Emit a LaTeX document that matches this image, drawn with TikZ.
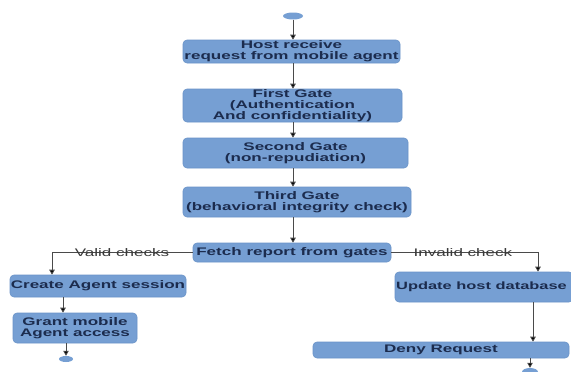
\documentclass[tikz,border=0pt]{standalone}
\usepackage{fontspec}
\newfontfamily\boxfont[FakeStretch=1.55]{Liberation Sans}
\usetikzlibrary{arrows.meta,shapes.geometric}
\definecolor{boxfill}{HTML}{769FD3}
\definecolor{boxline}{HTML}{6A93C8}
\definecolor{boxtext}{HTML}{1C2C4E}
\definecolor{linegray}{HTML}{4A4A4A}
\definecolor{labgray}{HTML}{3A3A3A}
\tikzset{
  stepbox/.style={draw=boxline, line width=0.6pt, fill=boxfill, rounded corners=4pt,
    inner sep=0pt, align=center, text=boxtext,
    font=\boxfont\bfseries\fontsize{11pt}{11pt}\selectfont},
  terminal/.style={ellipse, fill=boxfill, draw=none, inner sep=0pt},
  arr/.style={draw=linegray, line width=0.8pt, -{Triangle[length=5pt,width=5.5pt,fill=black]}},
  lab/.style={text=labgray, inner sep=0pt, font=\boxfont\fontsize{11pt}{11pt}\selectfont}
}
\begin{document}
\begin{tikzpicture}[x=1pt,y=-1pt]
\clip (0,0) rectangle (571,372);
\fill[white] (0,0) rectangle (571,372);
% nodes
\node[terminal, minimum width=20pt, minimum height=7pt] (start) at (293,16) {};
\node[stepbox, minimum width=217pt, minimum height=23pt] (b1) at (291.5,51.5) {Host receive\\request from mobile agent};
\node[stepbox, minimum width=219pt, minimum height=33pt] (b2) at (292.5,105.5) {First Gate\\(Authentication\\And confidentiality)};
\node[stepbox, minimum width=225pt, minimum height=30pt] (b3) at (295.5,153) {Second Gate\\(non-repudiation)};
\node[stepbox, minimum width=228pt, minimum height=30pt] (b4) at (297,202) {Third Gate\\(behavioral integrity check)};
\node[stepbox, minimum width=198pt, minimum height=19pt] (b5) at (292,252.5) {Fetch report from gates};
\node[stepbox, minimum width=176pt, minimum height=22pt] (create) at (98,286) {Create Agent session};
\node[stepbox, minimum width=124pt, minimum height=30pt] (grant) at (75,328) {Grant mobile\\Agent access};
\node[stepbox, minimum width=178pt, minimum height=30pt] (update) at (484,287) {};
\node[text=boxtext, inner sep=0pt, font=\boxfont\bfseries\fontsize{10.6pt}{11pt}\selectfont] (updtext) at (481.5,287) {Update host database};
\node[stepbox, minimum width=256pt, minimum height=16pt] (deny) at (441,350) {Deny Request};
\node[terminal, minimum width=14pt, minimum height=6pt] (endl) at (66,359) {};
\node[terminal, minimum width=16pt, minimum height=8pt] (endr) at (530,372) {};
% spine coordinates
\coordinate (sp) at (293,0);
\coordinate (lx) at (52,0);
\coordinate (rx) at (538,0);
\coordinate (cx) at (63,0);
\coordinate (gx) at (66,0);
\coordinate (ux) at (533,0);
\coordinate (dx) at (530,0);
% connectors
\draw[arr] (start) -- (b1.north -| sp);
\draw[arr] (b1.south -| sp) -- (b2.north -| sp);
\draw[arr] (b2.south -| sp) -- (b3.north -| sp);
\draw[arr] (b3.south -| sp) -- (b4.north -| sp);
\draw[arr] (b4.south -| sp) -- (b5.north -| sp);
\draw[arr] (b5.west) -- (b5.west -| lx) -- (create.north -| lx);
\draw[arr] (b5.east) -- (b5.east -| rx) -- (update.north -| rx);
\draw[arr] (create.south -| cx) -- (grant.north -| cx);
\draw[arr] (grant.south -| gx) -- (endl.north);
\draw[arr] (update.south -| ux) -- (deny.north -| ux);
\draw[arr] (deny.south -| dx) -- (endr.north);
% labels
\node[lab] (lv) at (122,253) {Valid checks};
\node[lab] (li) at (463,253) {Invalid check};
\end{tikzpicture}
\end{document}
